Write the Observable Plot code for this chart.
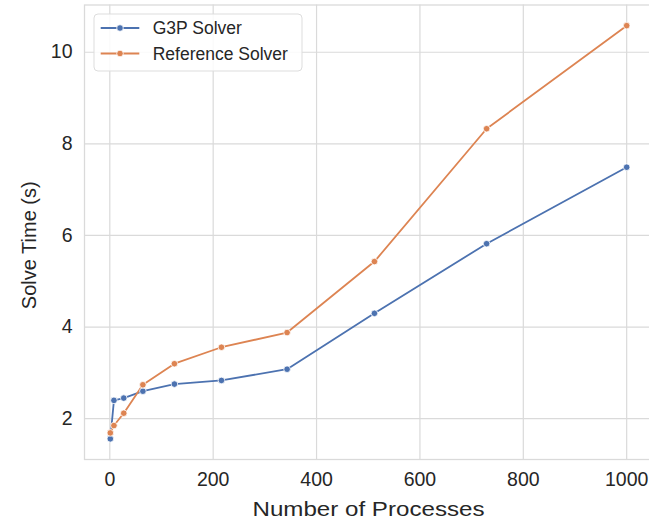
<!DOCTYPE html>
<html>
<head>
<meta charset="utf-8">
<script src="https://cdn.jsdelivr.net/npm/d3@7"></script>
<script src="https://cdn.jsdelivr.net/npm/@observablehq/plot@0.6"></script>
<style>
  html, body { margin: 0; padding: 0; background: white; }
  #chart { width: 649px; height: 521px; }
</style>
</head>
<body>
<div id="chart"></div>
<script>
// ---- data ----
const processes = [1, 8, 27, 64, 125, 216, 343, 512, 729, 1000];
const g3pTimes = [1.56, 2.40, 2.45, 2.60, 2.755, 2.835, 3.08, 4.30, 5.82, 7.49];
const refTimes = [1.69, 1.85, 2.12, 2.74, 3.20, 3.56, 3.88, 5.43, 8.33, 10.58];
const seriesNames = ["G3P Solver", "Reference Solver"];
const seriesColors = ["#4c72b0", "#dd8452"];
const xTicks = [0, 200, 400, 600, 800, 1000];
const yTicks = [2, 4, 6, 8, 10];
const xLabel = "Number of Processes";
const yLabel = "Solve Time (s)";

const rows = [];
processes.forEach((p, i) => rows.push({x: p, y: g3pTimes[i], series: seriesNames[0]}));
processes.forEach((p, i) => rows.push({x: p, y: refTimes[i], series: seriesNames[1]}));

function padded(vals) {
  const [a, b] = d3.extent(vals);
  const m = (b - a) * 0.05;
  return [a - m, b + m];
}
const xDomain = padded(processes);
const yDomain = padded(g3pTimes.concat(refTimes));

const grid = "#dadada";
const textColor = "#262626";

const svg = Plot.plot({
  width: 649,
  height: 521,
  marginLeft: 84,
  marginRight: -3,
  marginTop: 4.5,
  marginBottom: 62,
  style: {fontFamily: "'Liberation Sans', Arial, sans-serif", fontSize: "19.5px", color: textColor, background: "white"},
  x: {domain: xDomain},
  y: {domain: yDomain},
  color: {domain: seriesNames, range: seriesColors},
  marks: [
    Plot.gridX(xTicks, {stroke: grid, strokeOpacity: 1, strokeWidth: 1.2}),
    Plot.gridY(yTicks, {stroke: grid, strokeOpacity: 1, strokeWidth: 1.2}),
    Plot.frame({stroke: grid, strokeWidth: 1.3}),
    Plot.axisX(xTicks, {tickSize: 0, tickPadding: 13, label: null, fontSize: 19.5, fill: textColor, tickFormat: d => String(d)}),
    Plot.axisY(yTicks, {tickSize: 0, tickPadding: 12, label: null, fontSize: 19.5, fill: textColor, tickFormat: d => String(d)}),
    Plot.line(rows, {x: "x", y: "y", z: "series", stroke: "series", strokeWidth: 1.8}),
    Plot.dot(rows, {x: "x", y: "y", fill: "series", stroke: "white", strokeWidth: 0.8, r: 3.3}),
    Plot.text([xLabel], {text: d => d, frameAnchor: "bottom", textAnchor: "middle", dy: 56, lineAnchor: "bottom", fontSize: 20, fill: textColor}),
    Plot.text([yLabel], {text: d => d, frameAnchor: "left", textAnchor: "middle", rotate: -90, dx: -49, dy: 13, lineAnchor: "bottom", fontSize: 20, fill: textColor})
  ]
});

document.getElementById("chart").appendChild(svg);

const s = d3.select(svg);
s.selectAll("text").filter(function () { return this.textContent === xLabel; })
  .attr("textLength", 232).attr("lengthAdjust", "spacingAndGlyphs");

// legend
const lg = s.append("g").attr("font-family", "'Liberation Sans', Arial, sans-serif").attr("text-anchor", "start");
lg.append("rect").attr("x", 94).attr("y", 14).attr("width", 208).attr("height", 57)
  .attr("rx", 4).attr("fill", "white").attr("fill-opacity", 0.85)
  .attr("stroke", "#dddddd").attr("stroke-width", 1);
seriesNames.forEach((name, i) => {
  const yy = 28 + i * 25.5;
  lg.append("line").attr("x1", 100.7).attr("x2", 139.3).attr("y1", yy).attr("y2", yy)
    .attr("stroke", seriesColors[i]).attr("stroke-width", 1.8);
  lg.append("circle").attr("cx", 120).attr("cy", yy).attr("r", 3.3)
    .attr("fill", seriesColors[i]).attr("stroke", "white").attr("stroke-width", 0.8);
  lg.append("text").attr("x", 152.7).attr("y", yy).attr("dy", "0.35em")
    .attr("text-anchor", "start")
    .attr("font-size", 17.5).attr("fill", textColor).text(name);
});
</script>
</body>
</html>
